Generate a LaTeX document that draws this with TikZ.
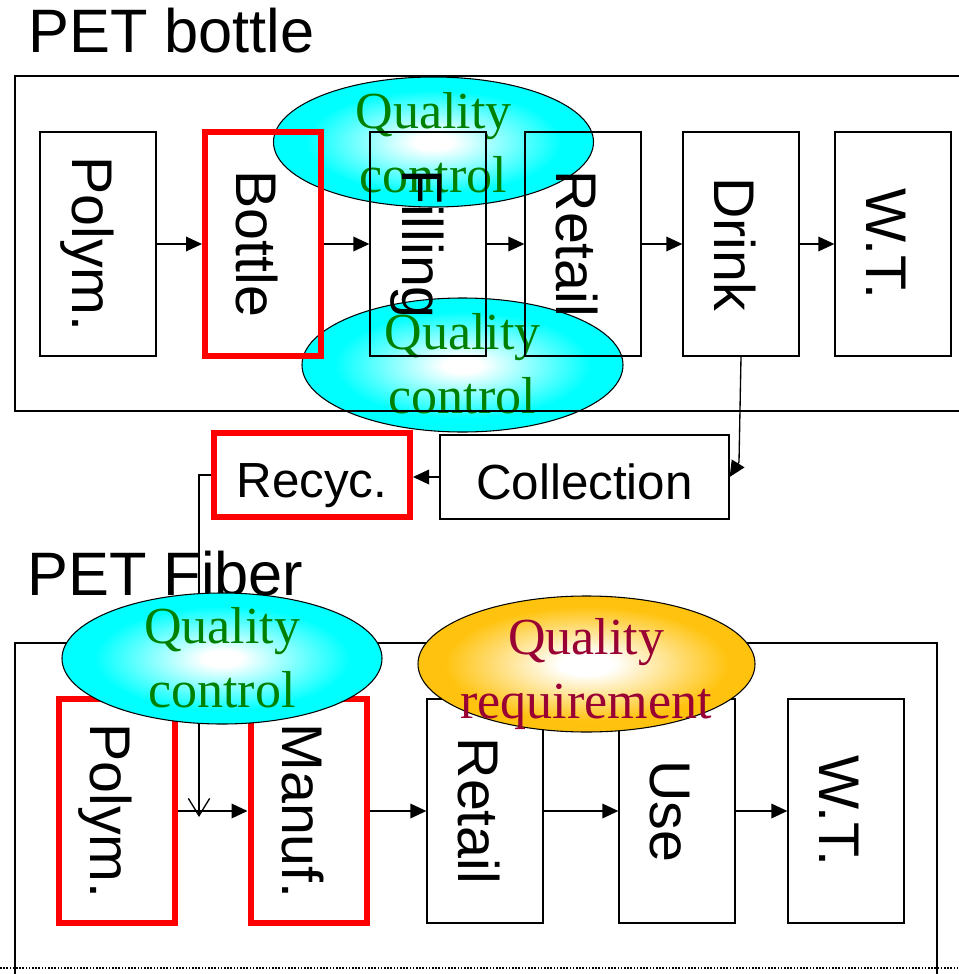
\documentclass[tikz,border=0pt]{standalone}
\usepackage{fontspec}
\setmainfont{Liberation Sans}
\newfontfamily\qserif{Liberation Serif}
\usepackage{graphicx}
\usetikzlibrary{arrows.meta,shapes.geometric}

\definecolor{qgreen}{RGB}{0,128,0}
\definecolor{qwine}{RGB}{153,0,51}
\definecolor{qgold}{RGB}{255,195,15}
\definecolor{qcyan}{RGB}{0,255,255}

% soft glow fills for the quality ellipses
\pgfdeclareradialshading{cyanglow}{\pgfpoint{0bp}{0bp}}{color(0bp)=(white); color(3bp)=(white); color(20bp)=(qcyan); color(50bp)=(qcyan)}
\pgfdeclareradialshading{goldglow}{\pgfpoint{0bp}{0bp}}{color(0bp)=(white); color(4bp)=(white); color(21bp)=(qgold); color(50bp)=(qgold)}

% vertical stage label, reading top to bottom
\newcommand{\stagetext}[1]{\rotatebox{-90}{\rule[-7.7pt]{0pt}{55pt}#1}}
% horizontal label with a fixed line box
\newcommand{\flattext}[1]{\rule[-6.7pt]{0pt}{47.4pt}#1}

\tikzset{
  stagebox/.style={draw, line width=1pt, minimum width=87pt, minimum height=168pt,
    inner sep=0pt, font=\fontsize{43pt}{50pt}\selectfont},
  keybox/.style={stagebox, draw=red, line width=4.5pt},
  flatbox/.style={draw, line width=1pt, minimum height=63pt, inner sep=0pt,
    font=\fontsize{37pt}{44pt}\selectfont},
  flow/.style={line width=1pt, -{Triangle[length=12pt,width=11pt]}},
  cyanblob/.style={ellipse, draw, line width=0.8pt, shade, shading=cyanglow, inner sep=0pt},
  goldblob/.style={ellipse, draw, line width=0.8pt, shade, shading=goldglow, inner sep=0pt},
  qtext/.style={font=\qserif\fontsize{39pt}{48pt}\selectfont, align=center, inner sep=0pt},
  heading/.style={font=\fontsize{46pt}{55pt}\selectfont, anchor=base west, inner sep=0pt},
}

\begin{document}
\begin{tikzpicture}[x=0.75pt, y=-0.75pt]
\useasboundingbox (0,0) rectangle (959,974);
\clip (0,0) rectangle (959,974);

% ---------------- PET bottle chain ----------------
\node[heading] (titleBottle) at (28,53) {PET bottle};

\node[cyanblob, minimum width=240pt, minimum height=97.5pt] (qcTop) at (433.5,142) {};
\node[qtext, text=qgreen] (qcTopText) at (433.5,142.3) {Quality\\control};
\node[cyanblob, minimum width=240.75pt, minimum height=100.5pt] (qcLow) at (462.5,365) {};
\node[qtext, text=qgreen] (qcLowText) at (462.5,364) {Quality\\control};

\draw[line width=1pt] (1000,76) -- (15,76) -- (15,411) -- (1000,411);

\node[stagebox] (polymB)  at (98,244)  {\stagetext{Polym.}};
\node[keybox]   (bottleB) at (263,244) {\stagetext{Bottle}};
\node[stagebox] (fillB)   at (428,244) {\stagetext{Filling}};
\node[stagebox] (retailB) at (583,244) {\stagetext{Retail}};
\node[stagebox] (drinkB)  at (741,244) {\stagetext{Drink}};
\node[stagebox] (wtB)     at (893,244) {\stagetext{W.T.}};

\draw[flow] (polymB) -- (bottleB);
\draw[flow] (bottleB) -- (fillB);
\draw[flow] (fillB) -- (retailB);
\draw[flow] (retailB) -- (drinkB);
\draw[flow] (drinkB) -- (wtB);

% ---------------- collection and recycling ----------------
\node[flatbox, minimum width=216.75pt] (collect) at (584.5,477) {\flattext{Collection}};
\node[flatbox, draw=red, line width=4.5pt, minimum width=147pt] (recyc) at (312,475) {\flattext{Recyc.}};

\coordinate (dcBend) at (739,462);
\draw[flow] (drinkB.south) -- (dcBend) -- (collect.east);
\draw[flow] (collect.west) -- (collect.west -| recyc.east);

% ---------------- PET fiber chain ----------------
\node[heading] (titleFiber) at (27,595) {PET Fiber};

\draw[line width=1pt] (15,1000) -- (15,643) -- (937,643) -- (937,1000);

\node[keybox]   (polymF)  at (116.5,811) {\stagetext{Polym.}};
\node[keybox]   (manufF)  at (308.5,811) {\stagetext{Manuf.}};
\node[stagebox] (retailF) at (485,811)   {\stagetext{Retail}};
\node[stagebox] (useF)    at (677,811)   {\stagetext{Use}};
\node[stagebox] (wtF)     at (846,811)   {\stagetext{W.T.}};

\draw[flow] (polymF) -- (manufF);
\draw[flow] (manufF) -- (retailF);
\draw[flow] (retailF) -- (useF);
\draw[flow] (useF) -- (wtF);

\coordinate (recycDrop) at (199,817);
\draw[line width=1pt, -{Straight Barb[length=13pt,width=16pt]}] (recyc.west) -| (recycDrop);

\node[cyanblob, minimum width=240pt, minimum height=98.25pt] (qcFiber) at (222,658.5) {};
\node[qtext, text=qgreen] (qcFiberText) at (222,657.5) {Quality\\control};
\node[goldblob, minimum width=252.75pt, minimum height=102pt] (qrFiber) at (586.5,664) {};
\node[qtext, text=qwine] (qrFiberText) at (586,673.5) {Quality\\requirement};

% page rule along the bottom
\draw[line width=1.5pt, dash pattern=on 1.2pt off 1.2pt] (0,968) -- (959,968);
\end{tikzpicture}
\end{document}
